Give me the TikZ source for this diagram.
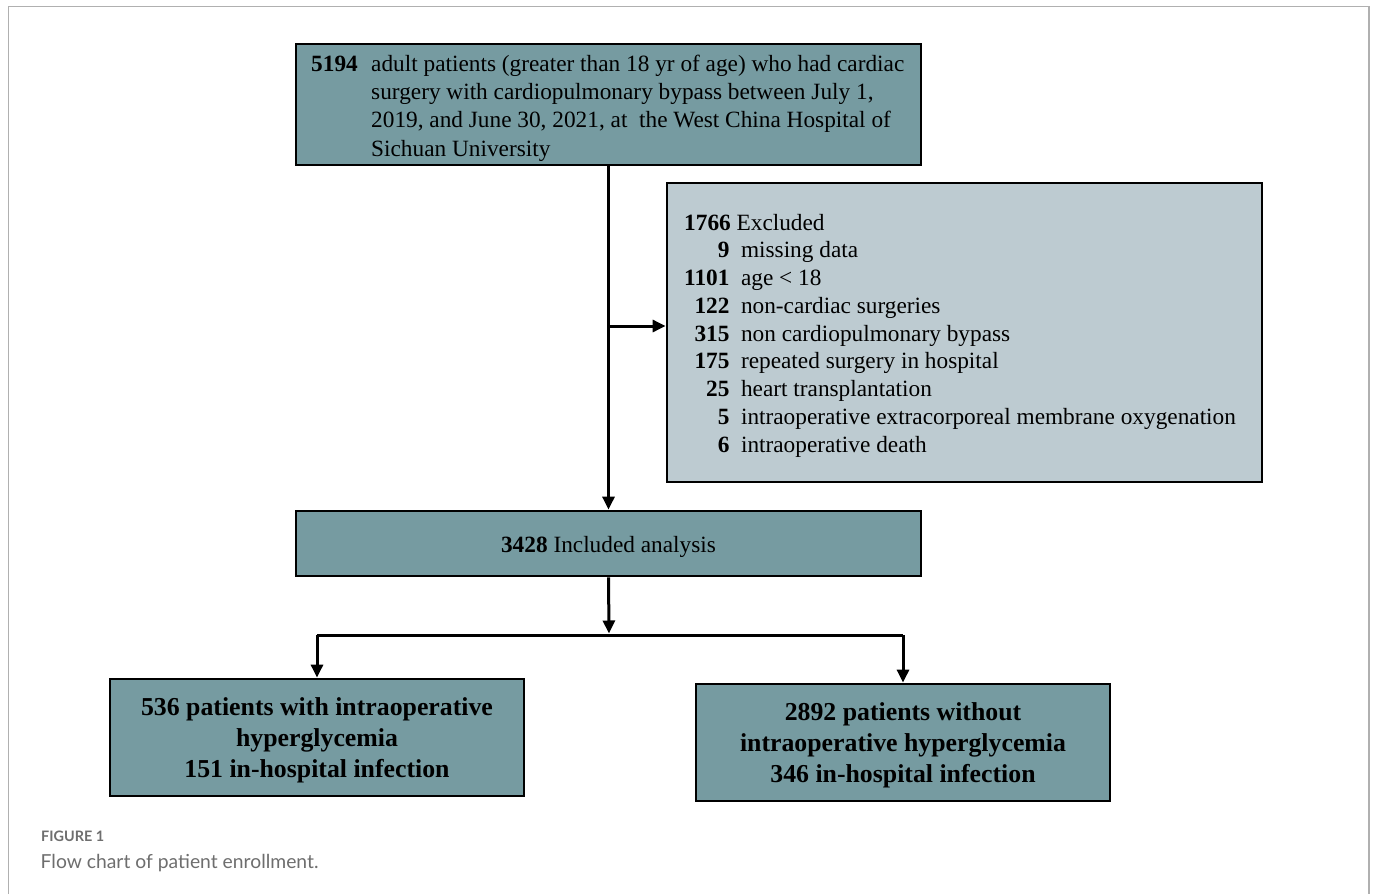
\documentclass[tikz,border=0pt]{standalone}
\usepackage{fontspec}
\setmainfont{Liberation Serif}
\newfontfamily\capfont{Lato}
\usetikzlibrary{arrows.meta}
\definecolor{teal1}{RGB}{118,155,161}
\definecolor{light1}{RGB}{189,203,209}
\definecolor{framegray}{RGB}{176,176,176}
\definecolor{capgray}{RGB}{110,110,110}
\tikzset{
  darkbox/.style={draw=black, line width=2.8pt, fill=teal1, inner sep=0pt},
  lightbox/.style={draw=black, line width=2.8pt, fill=light1, inner sep=0pt},
  arr/.style={draw=black, line width=3pt, -{Triangle[length=13pt,width=12pt]}},
  conn/.style={draw=black, line width=3pt},
  txt/.style={inner sep=0pt, font=\fontsize{23.3}{28.2}\selectfont},
  bigtxt/.style={inner sep=0pt, align=center, font=\fontsize{25.8}{31}\selectfont\bfseries}
}
\begin{document}
\begin{tikzpicture}[x=1pt,y=-1pt]
\useasboundingbox (0,0) rectangle (1375,894);
\fill[white] (0,0) rectangle (1375,894);
% outer frame
\draw[framegray, line width=1.5pt] (8.5,894) -- (8.5,6.5) -- (1369,6.5) -- (1369,894);

% boxes
\node[darkbox, minimum width=625pt, minimum height=121pt] (top) at (608.5,104.5) {};
\node[lightbox, minimum width=595pt, minimum height=299pt] (excl) at (964.5,332.5) {};
\node[darkbox, minimum width=625pt, minimum height=65pt] (mid) at (608.5,543.5) {};
\node[darkbox, minimum width=414pt, minimum height=117pt] (left) at (317,737.5) {};
\node[darkbox, minimum width=414pt, minimum height=117pt] (right) at (903,742.5) {};

% texts
\node[txt, anchor=north west] (toptext) at (311,51.5) {%
\begin{tabular}{@{}l@{}l@{}}
\makebox[60pt][l]{\textbf{5194}} & adult patients (greater than 18 yr of age) who had cardiac\\
 & surgery with cardiopulmonary bypass between July 1,\\
 & 2019, and June 30, 2021, at\ \ the West China Hospital of\\
 & Sichuan University
\end{tabular}};

\node[anchor=north west, inner sep=0pt, font=\fontsize{23.3}{27.75}\selectfont] (excltext) at (684,210.5) {%
\begin{tabular}{@{}r@{\hspace{11.5pt}}l@{}}
\multicolumn{2}{@{}l@{}}{\textbf{1766} Excluded}\\
\textbf{9} & missing data\\
\textbf{1101} & age < 18\\
\textbf{122} & non-cardiac surgeries\\
\textbf{315} & non cardiopulmonary bypass\\
\textbf{175} & repeated surgery in hospital\\
\textbf{25} & heart transplantation\\
\textbf{5} & intraoperative extracorporeal membrane oxygenation\\
\textbf{6} & intraoperative death
\end{tabular}};

\node[txt] (midtext) at ([yshift=-3pt]mid.center) {\textbf{3428} Included analysis};
\node[bigtxt] (lefttext) at ([yshift=-3pt]left.center) {536 patients with intraoperative\\hyperglycemia\\151 in-hospital infection};
\node[bigtxt] (righttext) at ([yshift=-3pt]right.center) {2892 patients without\\intraoperative hyperglycemia\\346 in-hospital infection};

% connectors
\coordinate (branch) at (609,326);
\coordinate (split) at (609,635);
\draw[arr] (top.south) -- (mid.north);
\draw[arr] (branch) -- (branch -| excl.west);
\draw[arr] (mid.south) -- ([yshift=1.5pt]split);
\draw[conn] (left.north |- split) -- (right.north |- split);
\draw[arr] (left.north |- split) -- (left.north);
\draw[arr] (right.north |- split) -- (right.north);

% caption
\node[anchor=base west, inner sep=0pt, text=capgray, font=\capfont\fontsize{14.4}{16}\selectfont\bfseries] (figlabel) at (41,841.5) {FIGURE 1};
\node[anchor=base west, inner sep=0pt, text=capgray, font=\capfont\fontsize{19.3}{22}\selectfont] (caption) at (40.5,868.5) {Flow chart of patient enrollment.};
\end{tikzpicture}
\end{document}
